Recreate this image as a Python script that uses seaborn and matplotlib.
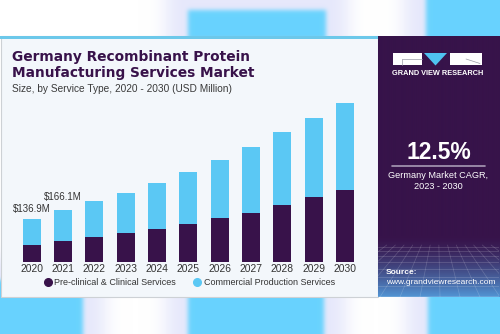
import numpy as np
import pandas as pd
import matplotlib
matplotlib.use("Agg")
import matplotlib.pyplot as plt
from matplotlib.patches import Rectangle, Polygon
from matplotlib.lines import Line2D
import seaborn as sns

# ---- data (USD million) ----
years = ["2020", "2021", "2022", "2023", "2024", "2025",
         "2026", "2027", "2028", "2029", "2030"]
clinical = [55.5, 67.0, 81.0, 92.0, 107.0, 122.0, 141.0, 158.0, 181.7, 207.0, 231.8]
commercial = [81.4, 99.1, 114.5, 130.0, 145.0, 167.5, 186.0, 211.6, 234.0, 253.6, 276.9]
value_labels = ["$136.9M", "$166.1M"]
series_names = ["Pre-clinical & Clinical Services", "Commercial Production Services"]
title_lines = ["Germany Recombinant Protein", "Manufacturing Services Market"]
subtitle = "Size, by Service Type, 2020 - 2030 (USD Million)"
cagr = "12.5%"
cagr_caption = ["Germany Market CAGR,", "2023 - 2030"]

DARK = "#38124a"
CYAN = "#5bc8f4"
SKY = np.array([0x69, 0xd3, 0xfe]) / 255
LAV = np.array([0xe6, 0xe8, 0xfb]) / 255
CARD = "#f3f7fb"
PANEL = np.array([0x37, 0x13, 0x4a]) / 255
PANEL_LOW = np.array([0x52, 0x96, 0xd6]) / 255

df = pd.DataFrame({"year": years, "clinical": clinical, "commercial": commercial})
df["total"] = df["clinical"] + df["commercial"]

W, H = 500, 334
sns.set_theme(style="white")
plt.rcParams["font.family"] = ["Liberation Sans", "DejaVu Sans"]
fig = plt.figure(figsize=(W / 100, H / 100), dpi=100)


def px_axes(x0, y0, x1, y1):
    """Axes placed by pixel box measured from the top-left corner."""
    return fig.add_axes([x0 / W, 1 - y1 / H, (x1 - x0) / W, (y1 - y0) / H])


def blur(a, s):
    r = int(3 * s) + 1
    k = np.exp(-0.5 * (np.arange(-r, r + 1) / s) ** 2)
    k /= k.sum()
    a = np.pad(a, r, mode="edge")
    a = np.apply_along_axis(lambda v: np.convolve(v, k, mode="valid"), 0, a)
    a = np.apply_along_axis(lambda v: np.convolve(v, k, mode="valid"), 1, a)
    return a


# ---- soft backdrop ----
yy, xx = np.mgrid[0:H, 0:W]
blobs = [(188, 326, 10, 80), (426, 540, -40, 80),
         (-40, 83, 280, 380), (188, 324, 280, 380), (428, 540, 280, 380)]
sky_mask = np.zeros((H, W))
halo_mask = np.zeros((H, W))
for x0, x1, y0, y1 in blobs:
    sky_mask[(xx >= x0) & (xx < x1) & (yy >= y0) & (yy < y1)] = 1
    halo_mask[(xx >= x0 - 22) & (xx < x1 + 22) & (yy >= y0 - 22) & (yy < y1 + 22)] = 1
sky_mask = blur(sky_mask, 2.2)
halo_mask = blur(halo_mask, 9)[..., None]
img = np.ones((H, W, 3)) * (1 - halo_mask) + LAV * halo_mask
img = img * (1 - sky_mask[..., None]) + SKY * sky_mask[..., None]

bg = px_axes(0, 0, W, H)
bg.imshow(img, extent=(0, W, H, 0), aspect="auto", interpolation="bilinear")
bg.set_xlim(0, W)
bg.set_ylim(H, 0)
bg.axis("off")
bg.add_patch(Rectangle((0.5, 36), 377, 261, facecolor=CARD, edgecolor="#cdd1d5", lw=0.8))
bg.add_patch(Rectangle((0, 36), 377.5, 3, facecolor="#6cc8ea", edgecolor="none"))

# ---- headings ----
fig.text(12.5 / W, 1 - 57.5 / H, title_lines[0], fontsize=9.95, fontweight="bold",
         family="DejaVu Sans", color=DARK, va="center")
fig.text(12.5 / W, 1 - 72.5 / H, title_lines[1], fontsize=9.95, fontweight="bold",
         family="DejaVu Sans", color=DARK, va="center")
fig.text(12.5 / W, 1 - 88.5 / H, subtitle, fontsize=7.3, color="#3a3a3a", va="center")

# ---- stacked bars ----
ax = px_axes(12.9, 87.3, 363.8, 262)
sns.barplot(data=df, x="year", y="total", color=CYAN, saturation=1, width=0.575,
            linewidth=0, ax=ax)
sns.barplot(data=df, x="year", y="clinical", color=DARK, saturation=1, width=0.575,
            linewidth=0, ax=ax)
ax.set_xlim(-0.6, 10.6)
ax.set_ylim(0, 560)
ax.patch.set_alpha(0)
for sp in ax.spines.values():
    sp.set_visible(False)
ax.set_xlabel("")
ax.set_ylabel("")
ax.set_yticks([])
ax.tick_params(axis="x", length=0, pad=1.5, labelsize=7.4, labelcolor="#333333")

for i, (lab, off) in enumerate(zip(value_labels, [7.6, 9.8])):
    ax.annotate(lab, (i, df["total"][i]), xytext=(0, off), textcoords="offset points",
                ha="center", va="center", fontsize=7.0, color="#333333")

handles = [Line2D([], [], marker="o", ls="", color=DARK, markersize=5.5),
           Line2D([], [], marker="o", ls="", color=CYAN, markersize=5.5)]
fig.legend(handles, series_names, loc="center", bbox_to_anchor=(189 / W, 1 - 282.7 / H),
           ncol=2, frameon=False, fontsize=6.45, handletextpad=0.2, columnspacing=1.9,
           handlelength=1.0, labelcolor="#333333", borderaxespad=0)

# ---- side panel ----
px0, py0, px1, py1 = 377.5, 36, 499, 297
pan = px_axes(px0, py0, px1, py1)
rows = np.arange(py0, py1)
t = np.clip((rows - 236) / (py1 - 236), 0, 1) ** 1.4
grad = PANEL[None, :] * (1 - t[:, None]) + PANEL_LOW[None, :] * t[:, None]
pan.imshow(np.repeat(grad[:, None, :], 4, axis=1), extent=(px0, px1, py1, py0),
           aspect="auto", interpolation="bilinear")
pan.set_xlim(px0, px1)
pan.set_ylim(py1, py0)
pan.axis("off")

# perspective floor grid
for gy in [247, 251, 256, 262, 269, 277, 286, 296]:
    pan.plot([px0, px1], [gy, gy], color="white", alpha=0.2, lw=0.5)
for gx in np.linspace(300, 580, 15):
    vx, vy = 438, 205
    ys = np.array([245, py1])
    xs = vx + (gx - vx) * (ys - vy) / (py1 - vy)
    pan.plot(xs, ys, color="white", alpha=0.18, lw=0.5)

# logo
pan.add_patch(Rectangle((393, 53), 28.5, 12, facecolor="white", edgecolor="none"))
pan.add_patch(Polygon([(424, 53), (447, 53), (435.5, 65.5)], closed=True,
                      facecolor="#4fc3f0", edgecolor="none"))
pan.add_patch(Rectangle((450, 53), 31.5, 12, facecolor="white", edgecolor="none"))
pan.plot([402, 421.5], [58.5, 58.5], color="#9a9aa6", lw=0.5)
pan.plot([402, 402], [58.5, 65], color="#9a9aa6", lw=0.5)
pan.plot([466, 480], [59, 63.5], color="#9a9aa6", lw=0.5)
pan.text(437.5, 73.5, "GRAND VIEW RESEARCH", color="white", fontsize=5.3,
         fontweight="bold", ha="center", va="center")

pan.text(438.5, 152.5, cagr, color="white", fontsize=16.5, fontweight="bold",
         ha="center", va="center")
pan.plot([392, 485], [165.7, 165.7], color="#a89ab5", lw=1.2)
pan.text(438.5, 175.5, cagr_caption[0], color="white", fontsize=6.6, ha="center", va="center")
pan.text(438.5, 186.5, cagr_caption[1], color="white", fontsize=6.6, ha="center", va="center")
pan.text(386, 272.5, "Source:", color="white", fontsize=6.0, fontweight="bold",
         ha="left", va="center")
pan.text(386, 282.5, "www.grandviewresearch.com", color="white", fontsize=6.0,
         ha="left", va="center")

fig.savefig("out.png", dpi=100)
